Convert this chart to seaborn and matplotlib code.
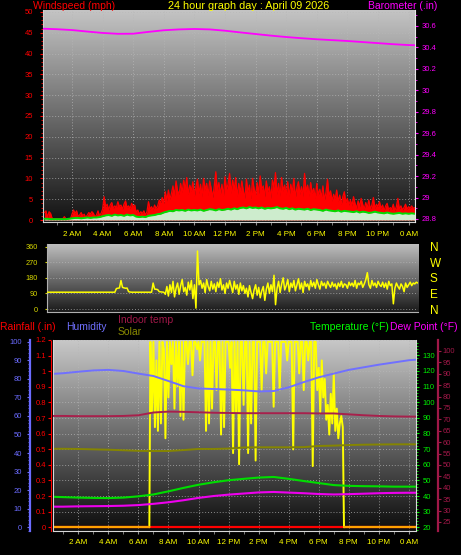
import numpy as np
import pandas as pd
import matplotlib
matplotlib.use("Agg")
import matplotlib.pyplot as plt
from matplotlib.colors import LinearSegmentedColormap
from matplotlib.ticker import MultipleLocator, FuncFormatter
import seaborn as sns

# ---------------- values ----------------
title = "24 hour graph day : April 09 2026"
label_hours = [2, 4, 6, 8, 10, 12, 14, 16, 18, 20, 22, 24]
time_labels = ["2 AM", "4 AM", "6 AM", "8 AM", "10 AM", "12 PM",
               "2 PM", "4 PM", "6 PM", "8 PM", "10 PM", "0 AM"]

# wind gust (mph), one sample every 6 min from 00:12
gust_start = 0.2
wind_gust = [
    1.8, 2.2, 0.6, 2.0, 1.6, 0.4, 0.3, 0.3, 0.3, 0.3,
    0.3, 0.3, 0.3, 0.8, 0.3, 0.3, 0.3, 0.3, 1.4, 2.4,
    1.6, 2.2, 0.9, 1.2, 1.8, 1.0, 1.4, 0.6, 1.2, 1.8,
    1.4, 2.0, 1.6, 0.8, 1.2, 2.2, 1.0, 1.6, 2.6, 5.6,
    3.2, 3.8, 2.4, 3.6, 4.2, 2.8, 3.4, 3.0, 4.4, 3.2,
    3.6, 2.6, 3.8, 4.6, 3.0, 3.4, 2.8, 4.0, 3.2, 3.6,
    1.8, 2.4, 1.4, 2.0, 1.6, 2.2, 1.2, 2.0, 4.4, 2.6,
    3.2, 2.4, 3.6, 2.8, 3.4, 4.8, 4.2, 5.4, 4.0, 6.8,
    4.6, 7.2, 5.0, 6.4, 8.2, 5.8, 9.4, 7.0, 6.2, 8.8,
    6.6, 9.6, 7.4, 10.2, 6.2, 8.4, 7.0, 9.2, 5.8, 8.0,
    9.8, 6.4, 8.6, 5.6, 10.0, 7.2, 8.8, 6.0, 9.4, 7.6,
    5.4, 8.2, 11.6, 7.0, 9.0, 6.2, 8.6, 5.8, 10.4, 7.4,
    8.6, 11.2, 6.4, 9.6, 7.2, 10.2, 5.6, 8.8, 6.6, 9.4,
    7.0, 5.2, 9.8, 6.8, 8.4, 4.8, 10.0, 7.6, 6.0, 9.0,
    6.4, 10.6, 7.4, 8.2, 5.6, 9.4, 6.8, 8.0, 5.2, 9.6,
    7.8, 11.4, 6.2, 8.8, 5.8, 10.2, 7.0, 8.4, 6.0, 9.2,
    5.8, 8.6, 6.6, 10.0, 5.4, 7.8, 9.2, 6.2, 8.0, 5.6,
    11.2, 6.8, 8.4, 5.8, 9.0, 6.4, 7.6, 5.2, 8.8, 6.0,
    7.4, 5.4, 8.2, 4.8, 6.6, 9.8, 5.8, 7.0, 4.6, 6.2,
    5.0, 7.2, 4.4, 6.0, 3.8, 5.6, 6.8, 4.2, 5.2, 3.6,
    4.8, 3.4, 5.6, 4.0, 2.8, 4.6, 3.2, 5.2, 3.8, 2.6,
    4.2, 3.0, 4.8, 2.6, 3.6, 5.4, 2.8, 3.8, 3.2, 4.4,
    2.8, 3.6, 2.2, 3.4, 4.0, 2.4, 3.0, 2.6, 3.8, 2.2,
    3.2, 5.2, 2.6, 3.4, 2.4, 3.0, 3.8, 2.6, 3.2, 2.8,
    3.4, 2.8, 3.0,
]

# average wind (mph), one sample every 12 min from 00:12
avg_start = 0.2
wind_avg = [
    0.3, 0.3, 0.2, 0.2, 0.2, 0.2, 0.2, 0.2, 0.3, 0.4,
    0.5, 0.5, 0.4, 0.5, 0.6, 0.5, 0.6, 0.6, 0.7, 0.9,
    1.1, 1.2, 1.0, 1.3, 1.1, 1.2, 1.0, 1.3, 1.1, 1.2,
    0.8, 0.7, 0.8, 0.7, 1.0, 1.1, 1.2, 1.4, 1.5, 1.8,
    2.0, 2.2, 2.1, 2.4, 2.3, 2.4, 2.2, 2.5, 2.3, 2.4,
    2.3, 2.5, 2.2, 2.4, 2.6, 2.5, 2.3, 2.6, 2.4, 2.5,
    2.7, 2.5, 2.8, 2.6, 2.9, 3.0, 2.8, 3.1, 2.9, 3.0,
    2.8, 3.0, 2.7, 2.9, 2.8, 2.9, 3.1, 2.8, 2.7, 2.9,
    2.6, 2.8, 2.5, 2.7, 2.6, 2.5, 2.7, 2.4, 2.6, 2.5,
    2.4, 2.2, 2.5, 2.3, 2.2, 2.1, 2.3, 2.0, 2.2, 2.1,
    2.0, 1.9, 2.1, 1.8, 2.0, 1.9, 1.7, 1.8, 2.0, 1.8,
    1.7, 1.6, 1.8, 1.6, 1.5, 1.6, 1.7, 1.5, 1.6, 1.5,
    1.6, 1.5,
]

# wind direction (degrees), one sample every 6 min from 00:24
dir_start = 0.4
wind_dir = [
    97, 97, 97, 97, 97, 97, 97, 97, 97, 97,
    97, 97, 97, 97, 97, 97, 97, 97, 97, 97,
    97, 97, 97, 97, 97, 97, 97, 97, 97, 97,
    97, 97, 97, 97, 97, 97, 97, 97, 97, 97,
    97, 97, 97, 97, 97, 118, 120, 122, 165, 125,
    122, 120, 121, 100, 98, 97, 97, 97, 97, 97,
    97, 97, 97, 97, 97, 97, 97, 97, 97, 150,
    115, 114, 112, 100, 99, 98, 97, 85, 130, 75,
    140, 95, 160, 70, 120, 150, 85, 135, 170, 100,
    125, 80, 155, 110, 165, 60, 140, 5, 335, 140,
    165, 120, 150, 95, 170, 130, 105, 160, 115, 145,
    100, 155, 125, 175, 110, 140, 90, 150, 120, 165,
    130, 95, 160, 115, 140, 85, 150, 105, 135, 90,
    120, 70, 135, 95, 60, 110, 140, 80, 125, 65,
    105, 130, 50, 115, 150, 90, 140, 100, 195, 25,
    120, 160, 95, 145, 180, 110, 135, 170, 100, 150,
    125, 165, 105, 140, 175, 115, 150, 95, 160, 130,
    145, 110, 165, 130, 155, 120, 170, 140, 115, 160,
    135, 150, 120, 160, 140, 125, 155, 130, 145, 115,
    150, 130, 160, 125, 145, 140, 120, 155, 135, 150,
    130, 165, 120, 150, 140, 160, 125, 145, 170, 210,
    140, 120, 165, 135, 150, 125, 160, 140, 130, 155,
    125, 150, 115, 160, 135, 145, 30, 120, 150, 130,
    115, 145, 130, 100, 150, 125, 140, 155, 135, 150,
    145, 155, 150,
]

# hourly readings
hours = [0, 1, 2, 3, 4, 5, 6, 7, 8, 9, 10, 11, 12,
         13, 14, 15, 16, 17, 18, 19, 20, 21, 22, 23, 24, 25]
barometer = [30.575, 30.570, 30.562, 30.548, 30.535, 30.527, 30.528, 30.545,
             30.560, 30.568, 30.572, 30.568, 30.556, 30.540, 30.525, 30.510,
             30.497, 30.486, 30.476, 30.468, 30.460, 30.450, 30.440, 30.430,
             30.422, 30.418]
humidity = [82.5, 83.0, 83.8, 84.5, 84.8, 84.2, 82.8, 81.5, 78.8, 76.0, 74.8,
            74.5, 74.2, 73.8, 73.2, 73.4, 75.4, 78.2, 80.8, 82.8, 84.8, 86.2,
            87.6, 88.8, 90.0, 90.6]
indoor_hum = [42.3, 42.3, 42.2, 42.0, 41.8, 41.5, 41.2, 41.1, 41.1, 41.6, 42.2,
              42.2, 42.4, 43.0, 43.1, 43.1, 43.1, 43.2, 43.8, 44.0, 44.3, 44.5,
              44.6, 44.7, 44.7, 44.7]
temperature = [39.6, 39.3, 39.0, 38.8, 38.7, 39.0, 39.8, 41.0, 43.0, 45.2, 47.2,
               48.8, 50.1, 51.0, 51.8, 52.2, 51.0, 49.6, 48.3, 47.0, 46.5, 46.3,
               46.2, 46.0, 46.0, 46.0]
dew_point = [33.2, 33.2, 33.4, 33.5, 33.6, 33.8, 34.2, 35.0, 36.0, 37.3, 38.8,
             40.0, 40.9, 41.6, 42.3, 42.6, 42.2, 41.8, 41.3, 41.0, 41.2, 41.5,
             41.8, 42.0, 42.1, 42.1]
indoor_temp = [71.5, 71.5, 71.4, 71.4, 71.4, 71.5, 71.8, 73.0, 73.4, 73.3, 73.1,
               72.9, 72.8, 72.7, 72.7, 72.7, 72.7, 72.7, 72.6, 72.6, 72.2, 71.8,
               71.5, 71.3, 71.2, 71.2]
rainfall = [0.0, 0.0, 0.0, 0.0, 0.0, 0.0, 0.0, 0.0, 0.0, 0.0, 0.0, 0.0, 0.0,
            0.0, 0.0, 0.0, 0.0, 0.0, 0.0, 0.0, 0.0, 0.0, 0.0, 0.0, 0.0, 0.0]

# solar radiation (W/m2), every 6 min from 06:48, zero outside daylight
sunrise, sunset = 6.73, 19.68
solar_start = 6.8
solar = [
    1000, 620, 1000, 540, 900, 520, 1000, 560, 1000, 960,
    480, 1000, 700, 1000, 880, 1000, 640, 1000, 760, 1000,
    600, 1000, 580, 1000, 1000, 880, 1000, 1000, 820, 1000,
    1000, 960, 1000, 900, 1000, 1000, 1000, 520, 1000, 560,
    1000, 640, 1000, 1000, 740, 1000, 1000, 500, 1000, 540,
    1000, 1000, 1000, 860, 1000, 400, 1000, 620, 1000, 340,
    1000, 1000, 660, 1000, 1000, 400, 1000, 560, 1000, 1000,
    360, 1000, 1000, 1000, 740, 1000, 1000, 830, 1000, 1000,
    1000, 1000, 650, 1000, 1000, 1000, 740, 1000, 1000, 1000,
    1000, 900, 1000, 1000, 1000, 420, 1000, 1000, 1000, 830,
    1000, 1000, 740, 1000, 1000, 900, 1000, 1000, 330, 1000,
    1000, 740, 860, 620, 900, 700, 800, 580, 660, 500,
    720, 560, 830, 520, 640, 480, 560, 600, 540,
]

# ---------------- frames ----------------
gust_df = pd.DataFrame({"hour": gust_start + 0.1 * np.arange(len(wind_gust)), "mph": wind_gust})
avg_df = pd.DataFrame({"hour": avg_start + 0.2 * np.arange(len(wind_avg)), "mph": wind_avg})
dir_df = pd.DataFrame({"hour": dir_start + 0.1 * np.arange(len(wind_dir)), "deg": wind_dir})
hourly = pd.DataFrame({"hour": hours, "baro": barometer, "hum": humidity, "inhum": indoor_hum,
                       "temp": temperature, "dew": dew_point, "intemp": indoor_temp,
                       "rain": rainfall})
day_hours = solar_start + 0.1 * np.arange(len(solar))
solar_day = pd.DataFrame({"hour": np.r_[sunrise, day_hours, sunset], "wm2": np.r_[0, solar, 0]})
night_am = pd.DataFrame({"hour": [h for h in hours if h < sunrise] + [sunrise]})
night_am["wm2"] = 0.0
night_pm = pd.DataFrame({"hour": [sunset] + [h for h in hours if h > sunset]})
night_pm["wm2"] = 0.0

# ---------------- figure ----------------
sns.set_style("ticks")
plt.rcParams["font.family"] = ["Liberation Sans", "DejaVu Sans"]

W, H = 461, 555
fig = plt.figure(figsize=(W / 100, H / 100), dpi=100, facecolor="black")


def rect(l, t, r, b):
    return [l / W, 1 - b / H, (r - l) / W, (b - t) / H]


def shade(ax, top, bottom):
    cmap = LinearSegmentedColormap.from_list("panel", [bottom, top])
    ax.imshow(np.linspace(0, 1, 256).reshape(-1, 1), cmap=cmap, aspect="auto",
              extent=(0, 1, 0, 1), transform=ax.transAxes, origin="lower", zorder=0)


def spines(ax, keep, color="#d0d0d0"):
    for name, sp in ax.spines.items():
        sp.set_visible(name in keep)
        sp.set_color(color)


def label(x, y, s, color, ha="left", size=7.5):
    fig.text(x / W, 1 - y / H, s, color=color, ha=ha, va="center", fontsize=size)


fmt = FuncFormatter(lambda v, p: f"{v:.1f}".rstrip("0").rstrip("."))
grid_kw = dict(color="#b8b8b8", linestyle=(0, (1, 2)), linewidth=0.7, alpha=0.7)

# ---- top: windspeed / barometer ----
ax_w = fig.add_axes(rect(43, 10, 415, 222))
ax_w.set_facecolor("black")
shade(ax_w, "#c4c4c4", "#121212")
ax_w.fill_between(gust_df["hour"], 0, gust_df["mph"], color="#ff0000", lw=0, zorder=2)
sns.lineplot(data=gust_df, x="hour", y="mph", ax=ax_w, color="#ff0000", lw=0.9, zorder=3)
ax_w.fill_between(avg_df["hour"], 0, avg_df["mph"], color="#cdeccd", lw=0, zorder=4)
sns.lineplot(data=avg_df, x="hour", y="mph", ax=ax_w, color="#00dd00", lw=1.4, zorder=5)
ax_w.set_xlim(0.105, 24.42)
ax_w.set_ylim(-0.48, 50.48)
ax_w.set_xticks(label_hours)
ax_w.set_xticklabels(time_labels)
ax_w.xaxis.set_minor_locator(MultipleLocator(1))
ax_w.set_yticks(range(0, 51, 5))
ax_w.yaxis.set_minor_locator(MultipleLocator(1))
ax_w.tick_params(axis="x", which="both", colors="#909090", labelcolor="#ffff00",
                 labelsize=5.8, length=2, pad=4.8)
ax_w.tick_params(axis="y", which="both", colors="#ff0000", labelsize=5.5, length=2.5, pad=4.5)
ax_w.tick_params(axis="y", which="minor", length=1.5)
ax_w.grid(True, **grid_kw)
ax_w.set_xlabel("")
ax_w.set_ylabel("")
spines(ax_w, ["left", "bottom"])

ax_p = ax_w.twinx()
sns.lineplot(data=hourly, x="hour", y="baro", ax=ax_p, color="#ff00ff", lw=1.3)
ax_p.set_ylim(28.772, 30.749)
ax_p.set_yticks(np.round(np.arange(28.8, 30.61, 0.2), 1))
ax_p.yaxis.set_major_formatter(fmt)
ax_p.yaxis.set_minor_locator(MultipleLocator(0.1))
ax_p.tick_params(axis="y", which="both", colors="#ff00ff", labelsize=5.5, length=2.5, pad=2.3)
ax_p.tick_params(axis="y", which="minor", length=1.5)
ax_p.set_ylabel("")
spines(ax_p, ["right"], "#e8e8e8")

# ---- middle: wind direction ----
ax_d = fig.add_axes(rect(47, 244, 418, 312))
ax_d.set_facecolor("black")
shade(ax_d, "#bebebe", "#1a1a1a")
sns.lineplot(data=dir_df, x="hour", y="deg", ax=ax_d, color="#ffff00", lw=1.1, zorder=3)
ax_d.set_xlim(0.366, 24.61)
ax_d.set_ylim(-17.3, 375.6)
ax_d.set_yticks([0, 90, 180, 270, 360])
ax_d.tick_params(axis="x", length=0, labelbottom=False)
ax_d.tick_params(axis="y", colors="#d8d800", labelsize=5.3, length=1.5, pad=5)
ax_d.grid(True, axis="y", **grid_kw)
ax_d.set_xlabel("")
ax_d.set_ylabel("")
spines(ax_d, ["left", "bottom"], "#b0b0b0")

ax_dr = ax_d.twinx()
ax_dr.set_ylim(ax_d.get_ylim())
ax_dr.set_yticks([0, 90, 180, 270, 360])
ax_dr.set_yticklabels(["N", "E", "S", "W", "N"])
ax_dr.tick_params(axis="y", colors="#ffff00", labelsize=8.5, length=0, pad=8.6)
spines(ax_dr, [])

# ---- bottom: rain / humidity / solar / temperatures ----
ax_r = fig.add_axes(rect(53, 340, 416, 531))
ax_r.set_facecolor("black")
shade(ax_r, "#c8c8c8", "#0c0c0c")
sns.lineplot(data=hourly, x="hour", y="rain", ax=ax_r, color="#ff0000", lw=1.6, zorder=3)
ax_r.set_xlim(0.32, 24.47)
ax_r.set_ylim(-0.0237, 1.2)
ax_r.set_xticks(label_hours)
ax_r.set_xticklabels(time_labels)
ax_r.xaxis.set_minor_locator(MultipleLocator(1))
ax_r.set_yticks(np.round(np.arange(0, 1.21, 0.1), 1))
ax_r.yaxis.set_major_formatter(fmt)
ax_r.tick_params(axis="x", which="both", colors="#909090", labelcolor="#ffff00",
                 labelsize=5.8, length=2, pad=3.8)
ax_r.tick_params(axis="y", colors="#ff0000", labelsize=5.5, length=2, pad=1.4)
ax_r.grid(True, **grid_kw)
ax_r.set_xlabel("")
ax_r.set_ylabel("")
spines(ax_r, ["left"], "#ff0000")
ax_r.spines["left"].set_position(("outward", 1.5))
ax_r.spines["left"].set_linestyle((0, (1, 1)))

ax_s = ax_r.twinx()
sns.lineplot(data=solar_day, x="hour", y="wm2", ax=ax_s, color="#ffff00", lw=1.4)
sns.lineplot(data=night_am, x="hour", y="wm2", ax=ax_s, color="#ffa000", lw=1.6)
sns.lineplot(data=night_pm, x="hour", y="wm2", ax=ax_s, color="#ffa000", lw=1.6)
ax_s.set_ylim(-20, 1010)
ax_s.set_axis_off()

ax_h = ax_r.twinx()
sns.lineplot(data=hourly, x="hour", y="hum", ax=ax_h, color="#7070ff", lw=1.4)
sns.lineplot(data=hourly, x="hour", y="inhum", ax=ax_h, color="#858500", lw=1.4)
ax_h.set_ylim(-2.0, 100.9)
ax_h.yaxis.tick_left()
ax_h.set_yticks(range(0, 101, 10))
ax_h.yaxis.set_minor_locator(MultipleLocator(2))
ax_h.tick_params(axis="y", which="both", colors="#6b6bff", labelsize=5.5, length=2.5, pad=3.3)
ax_h.tick_params(axis="y", which="minor", length=1.5)
ax_h.set_ylabel("")
spines(ax_h, ["left"], "#6b6bff")
ax_h.spines["left"].set_position(("outward", 16.5))
ax_h.spines["left"].set_linewidth(1.6)

ax_t = ax_r.twinx()
sns.lineplot(data=hourly, x="hour", y="temp", ax=ax_t, color="#00dd00", lw=1.5)
sns.lineplot(data=hourly, x="hour", y="dew", ax=ax_t, color="#ee00ee", lw=1.5)
ax_t.set_ylim(17.63, 139.8)
ax_t.set_yticks(range(20, 131, 10))
ax_t.yaxis.set_minor_locator(MultipleLocator(2))
ax_t.tick_params(axis="y", which="both", colors="#00ee00", labelsize=5.5, length=2.5, pad=2.5)
ax_t.tick_params(axis="y", which="minor", length=1.5)
ax_t.set_ylabel("")
spines(ax_t, ["left", "right", "bottom"], "#d8d8d8")

ax_i = ax_r.twinx()
sns.lineplot(data=hourly, x="hour", y="intemp", ax=ax_i, color="#a8204c", lw=1.4)
ax_i.set_ylim(21.05, 104.8)
ax_i.set_yticks(range(25, 101, 5))
ax_i.tick_params(axis="y", colors="#a01848", labelsize=5.5, length=2, pad=1.8)
ax_i.set_ylabel("")
spines(ax_i, ["right"], "#a01848")
ax_i.spines["right"].set_position(("outward", 15.6))
ax_i.spines["right"].set_linewidth(1.6)

# ---- header and legend texts ----
label(33, 6, "Windspeed (mph)", "#ff0000")
label(249, 6, title, "#ffff00", ha="center", size=7.8)
label(368, 6, "Barometer (.in)", "#ff00ff")
label(0, 327, "Rainfall (.in)", "#ff0000")
label(66, 327, "Humidity", "#7070ff")
label(118, 320, "Indoor temp", "#a01848")
label(118, 332, "Solar", "#8a8a00")
label(310, 327, "Temperature (°F)", "#00ff00")
label(390, 327, "Dew Point (°F)", "#ff00ff")

fig.savefig("out.png", dpi=100, facecolor="black")
